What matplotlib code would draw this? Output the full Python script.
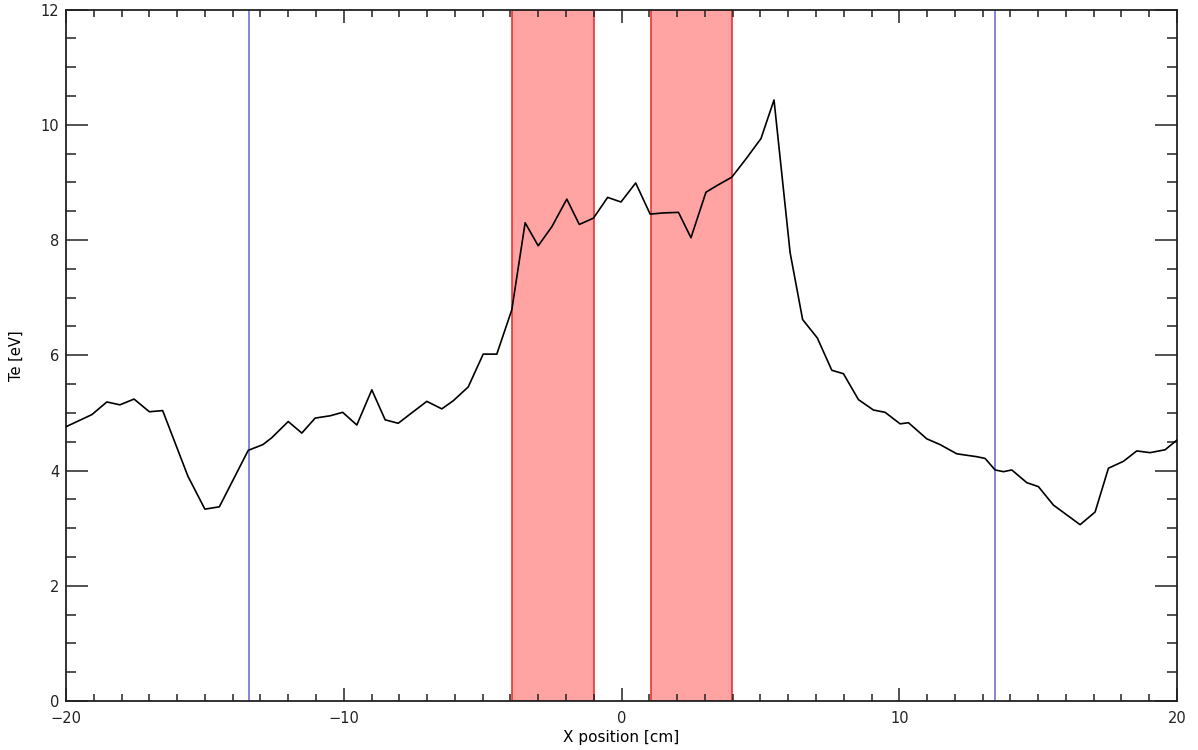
import numpy as np
import matplotlib
matplotlib.use('Agg')
from matplotlib import pyplot as plt
from matplotlib.ticker import MultipleLocator

# Te profile (x in cm, Te in eV)
x_pos = [-20.0, -19.07, -18.53, -18.06, -17.55, -17.0, -16.52, -15.61, -15.0, -14.48,
         -13.44, -12.91, -12.59, -12.0, -11.51, -11.03, -10.49, -10.04, -9.53, -8.99,
         -8.51, -8.04, -7.5, -7.01, -6.47, -6.06, -5.52, -4.98, -4.49, -3.95,
         -3.47, -3.0, -2.51, -1.97, -1.52, -1.01, -0.5, -0.02, 0.51, 1.03,
         1.5, 2.05, 2.5, 3.04, 3.49, 3.97, 4.5, 5.02, 5.49, 6.07,
         6.52, 7.05, 7.57, 7.99, 8.53, 9.07, 9.49, 10.03, 10.33, 10.99,
         11.47, 12.07, 12.79, 13.09, 13.45, 13.75, 14.05, 14.59, 15.01, 15.55,
         16.03, 16.51, 17.05, 17.53, 18.07, 18.55, 19.03, 19.57, 20.0]
te = [4.76, 4.97, 5.19, 5.14, 5.24, 5.02, 5.04, 3.90, 3.33, 3.37,
      4.35, 4.45, 4.57, 4.85, 4.65, 4.91, 4.95, 5.01, 4.79, 5.40,
      4.88, 4.82, 5.02, 5.20, 5.07, 5.21, 5.45, 6.02, 6.02, 6.79,
      8.30, 7.90, 8.23, 8.71, 8.27, 8.38, 8.74, 8.66, 8.99, 8.45,
      8.47, 8.48, 8.04, 8.83, 8.96, 9.09, 9.42, 9.76, 10.43, 7.78,
      6.62, 6.30, 5.74, 5.68, 5.23, 5.05, 5.01, 4.81, 4.83, 4.55,
      4.45, 4.29, 4.24, 4.21, 4.01, 3.98, 4.01, 3.79, 3.72, 3.40,
      3.23, 3.06, 3.28, 4.04, 4.16, 4.34, 4.31, 4.36, 4.53]

# shaded regions and vertical markers
bands = [(-3.95, -0.99), (1.05, 3.98)]
markers = [-13.42, 13.45]

fig = plt.figure(figsize=(11.98, 7.5), dpi=100)
ax = fig.add_axes([0.0551, 0.0653, 0.9274, 0.922])

for b in bands:
    ax.axvspan(b[0], b[1], facecolor='#ffa3a3', edgecolor='#ee3333', linewidth=1.2, zorder=1)
for m in markers:
    ax.axvline(m, color='#6f6fd8', linewidth=1.2, zorder=2)

ax.plot(x_pos, te, color='black', linewidth=1.2, zorder=3)

ax.set_xlim(-20, 20)
ax.set_ylim(0, 12)
ax.xaxis.set_major_locator(MultipleLocator(10))
ax.xaxis.set_minor_locator(MultipleLocator(1))
ax.yaxis.set_major_locator(MultipleLocator(2))
ax.yaxis.set_minor_locator(MultipleLocator(0.5))

ax.tick_params(axis='both', which='both', direction='in', top=True, right=True,
               colors='#222222', labelsize=10.5, width=1.1)
ax.tick_params(axis='x', which='major', length=9.5, pad=7)
ax.tick_params(axis='x', which='minor', length=5.2)
ax.tick_params(axis='y', which='major', length=16, pad=5)
ax.tick_params(axis='y', which='minor', length=7.5)
for s in ax.spines.values():
    s.set_linewidth(1.3)
    s.set_color('#222222')

ax.set_xlabel('X position [cm]', fontsize=11, labelpad=3)
ax.set_ylabel('Te [eV]', fontsize=10.5, labelpad=12)

fig.savefig('out.png', dpi=100)
